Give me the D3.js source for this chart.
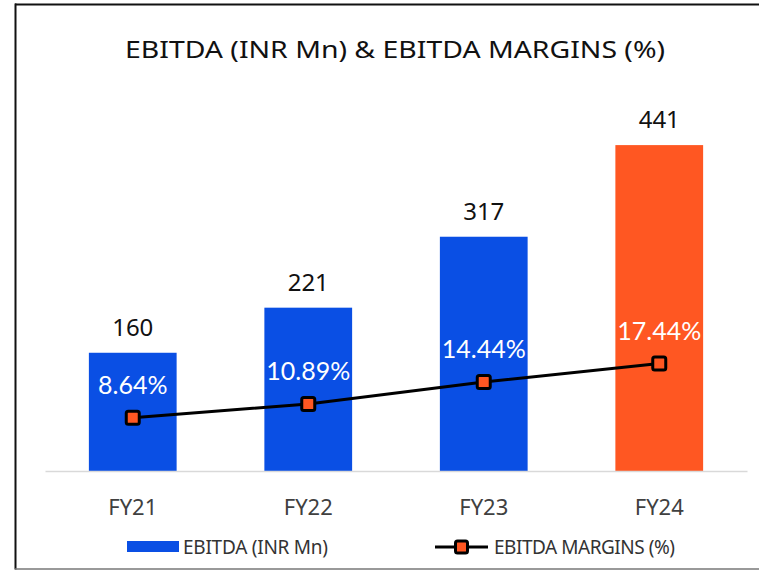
<!DOCTYPE html>
<html>
<head>
<meta charset="utf-8">
<script src="https://cdn.jsdelivr.net/npm/d3@7"></script>
<style>
  body { margin: 0; background: #fff; }
</style>
</head>
<body>
<div id="chart"></div>
<script>
// data
var years = ["FY21", "FY22", "FY23", "FY24"];
var ebitda = [160, 221, 317, 441];
var margins = [8.64, 10.89, 14.44, 17.44];
var marginLabels = ["8.64%", "10.89%", "14.44%", "17.44%"];

var width = 759;
var height = 571;

var blue = "#0A4FE4";
var orange = "#FF5722";

var svg = d3.select("#chart")
  .append("svg")
  .attr("width", width)
  .attr("height", height);

// frame
svg.append("line").attr("x1", 15.5).attr("x2", 15.5).attr("y1", 3.5).attr("y2", 569.5)
  .attr("stroke", "#111").attr("stroke-width", 2);
svg.append("line").attr("x1", 15).attr("x2", 759).attr("y1", 4.5).attr("y2", 4.5)
  .attr("stroke", "#111").attr("stroke-width", 2);
svg.append("line").attr("x1", 15).attr("x2", 759).attr("y1", 569).attr("y2", 569)
  .attr("stroke", "#777").attr("stroke-width", 1.5);

// title
svg.append("text")
  .attr("x", 395)
  .attr("y", 57.5)
  .attr("text-anchor", "middle")
  .attr("font-family", "Noto Sans")
  .attr("font-size", 24)
  .attr("fill", "#111")
  .attr("textLength", 540)
  .attr("lengthAdjust", "spacingAndGlyphs")
  .text("EBITDA (INR Mn) & EBITDA MARGINS (%)");

// scales
var xScale = d3.scaleBand()
  .domain(years)
  .range([45, 747])
  .paddingInner(0.5)
  .paddingOuter(0.25);

var yScale = d3.scaleLinear()
  .domain([0, 500])
  .range([471, 101.5]);

var y2Scale = d3.scaleLinear()
  .domain([0, 60])
  .range([471, 101.5]);

// bars
svg.selectAll("rect.bar")
  .data(ebitda)
  .enter()
  .append("rect")
  .attr("class", "bar")
  .attr("x", function(d, i) { return xScale(years[i]); })
  .attr("y", function(d) { return yScale(d); })
  .attr("width", xScale.bandwidth())
  .attr("height", function(d) { return yScale(0) - yScale(d); })
  .attr("fill", function(d, i) { return i == 3 ? orange : blue; });

// baseline axis
var xAxis = d3.axisBottom(xScale).tickSize(0).tickPadding(28);
var gx = svg.append("g")
  .attr("transform", "translate(0," + yScale(0) + ")")
  .call(xAxis);
gx.select(".domain").attr("stroke", "#d9d9d9").attr("stroke-width", 1.5);
gx.selectAll("text")
  .attr("font-family", "Noto Sans")
  .attr("font-size", 22)
  .attr("fill", "#404040");

// bar value labels
svg.selectAll("text.val")
  .data(ebitda)
  .enter()
  .append("text")
  .attr("class", "val")
  .attr("x", function(d, i) { return xScale(years[i]) + xScale.bandwidth() / 2; })
  .attr("y", function(d) { return yScale(d) - 17; })
  .attr("text-anchor", "middle")
  .attr("font-family", "Noto Sans")
  .attr("font-size", 24)
  .attr("fill", "#111")
  .text(function(d) { return d; });

// margin line
var line = d3.line()
  .x(function(d, i) { return xScale(years[i]) + xScale.bandwidth() / 2; })
  .y(function(d) { return y2Scale(d); });

svg.append("path")
  .datum(margins)
  .attr("d", line)
  .attr("fill", "none")
  .attr("stroke", "#000")
  .attr("stroke-width", 3);

svg.selectAll("rect.mk")
  .data(margins)
  .enter()
  .append("rect")
  .attr("class", "mk")
  .attr("x", function(d, i) { return xScale(years[i]) + xScale.bandwidth() / 2 - 6.5; })
  .attr("y", function(d) { return y2Scale(d) - 6.5; })
  .attr("width", 13)
  .attr("height", 13)
  .attr("rx", 2)
  .attr("fill", orange)
  .attr("stroke", "#000")
  .attr("stroke-width", 3);

svg.selectAll("text.pct")
  .data(margins)
  .enter()
  .append("text")
  .attr("class", "pct")
  .attr("x", function(d, i) { return xScale(years[i]) + xScale.bandwidth() / 2; })
  .attr("y", function(d) { return y2Scale(d) - 24; })
  .attr("text-anchor", "middle")
  .attr("font-family", "Lato")
  .attr("font-size", 25)
  .attr("fill", "#fff")
  .text(function(d, i) { return marginLabels[i]; });

// legend
var leg = svg.append("g").attr("font-family", "Noto Sans").attr("font-size", 19).attr("fill", "#333");
leg.append("rect").attr("x", 127).attr("y", 541).attr("width", 52).attr("height", 11).attr("fill", blue);
leg.append("text").attr("x", 183).attr("y", 553.5).attr("textLength", 145).attr("lengthAdjust", "spacing")
  .text("EBITDA (INR Mn)");
leg.append("line").attr("x1", 435).attr("x2", 488).attr("y1", 547).attr("y2", 547)
  .attr("stroke", "#000").attr("stroke-width", 3);
leg.append("rect").attr("x", 455.5).attr("y", 541).attr("width", 12).attr("height", 12).attr("rx", 2)
  .attr("fill", orange).attr("stroke", "#000").attr("stroke-width", 3);
leg.append("text").attr("x", 494).attr("y", 553.5).attr("textLength", 181).attr("lengthAdjust", "spacing")
  .text("EBITDA MARGINS (%)");
</script>
</body>
</html>
